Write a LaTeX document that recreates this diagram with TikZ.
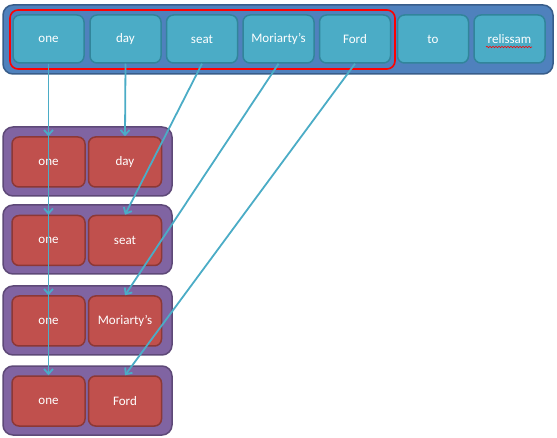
\documentclass[tikz,border=0pt]{standalone}
\usepackage{fontspec}
\setmainfont{Carlito}
\usetikzlibrary{arrows.meta, positioning, decorations.pathmorphing}
\definecolor{sentblue}{RGB}{79, 129, 189}
\definecolor{sentblueline}{RGB}{56, 93, 138}
\definecolor{wordteal}{RGB}{75, 172, 198}
\definecolor{wordtealline}{RGB}{49, 133, 155}
\definecolor{pairviolet}{RGB}{128, 100, 162}
\definecolor{pairvioletline}{RGB}{94, 73, 120}
\definecolor{wordred}{RGB}{192, 80, 77}
\definecolor{wordredline}{RGB}{140, 56, 54}
\definecolor{spanred}{RGB}{255, 0, 0}
\tikzset{
  sentbox/.style={draw=sentblueline, fill=sentblue, line width=1.5pt, rounded corners=10pt},
  pairbox/.style={draw=pairvioletline, fill=pairviolet, line width=1.5pt, rounded corners=10pt},
  spanbox/.style={draw=spanred, line width=1.6pt, rounded corners=8pt},
  word/.style={draw=wordtealline, fill=wordteal, line width=1.5pt, rounded corners=7pt,
    minimum width=71pt, minimum height=48pt, inner sep=0pt, text=white,
    font=\fontsize{13}{15}\selectfont},
  pairword/.style={word, draw=wordredline, fill=wordred, minimum width=73pt, minimum height=50pt},
  link/.style={wordteal, line width=1.8pt, -{Straight Barb[length=5pt, width=9pt]}},
}

\begin{document}
\begin{tikzpicture}[x=1pt, y=-1pt]
  \useasboundingbox (0, 0) rectangle (557, 438);

  % sentence
  \draw[sentbox] (3, 5) rectangle (553, 74);
  \node[word] (t-one) at (48.5, 39) {one};
  \node[word] (t-day) at (125.5, 39) {day};
  \node[word] (t-seat) at (202, 39) {seat};
  \node[word] (t-moriarty) at (278.5, 39) {Moriarty's};
  \node[word] (t-ford) at (355, 39) {Ford};
  \node[word] (t-to) at (433, 39) {to};
  \node[word] (t-relissam) at (509.5, 39) {relissam};
  \draw[spanbox] (10, 10) rectangle (395, 69);
  \draw[red, line width=0.6pt, decorate, decoration={snake, amplitude=0.7pt, segment length=3pt}]
    (486, 47) -- (532, 47);

  % pairs
  \draw[pairbox] (3, 127) rectangle (172, 196);
  \node[pairword] (p1-one) at (48.5, 162) {one};
  \node[pairword] (p1-day) at (125, 162) {day};

  \draw[pairbox] (3, 205) rectangle (172, 274);
  \node[pairword] (p2-one) at (48.5, 240.5) {one};
  \node[pairword] (p2-seat) at (125, 240.5) {seat};

  \draw[pairbox] (3, 286) rectangle (172, 355);
  \node[pairword] (p3-one) at (48.5, 321) {one};
  \node[pairword] (p3-moriarty) at (125, 321) {Moriarty's};

  \draw[pairbox] (3, 366) rectangle (172, 435);
  \node[pairword] (p4-one) at (48.5, 401) {one};
  \node[pairword] (p4-ford) at (125, 401) {Ford};

  % links
  \foreach \k in {1, 2, 3, 4}
    \draw[link] (t-one.south) -- (p\k-one.north);
  \draw[link] (t-day.south) -- (p1-day.north);
  \draw[link] (t-seat.south) -- (p2-seat.north);
  \draw[link] (t-moriarty.south) -- (p3-moriarty.north);
  \draw[link] (t-ford.south) -- (p4-ford.north);
\end{tikzpicture}
\end{document}
